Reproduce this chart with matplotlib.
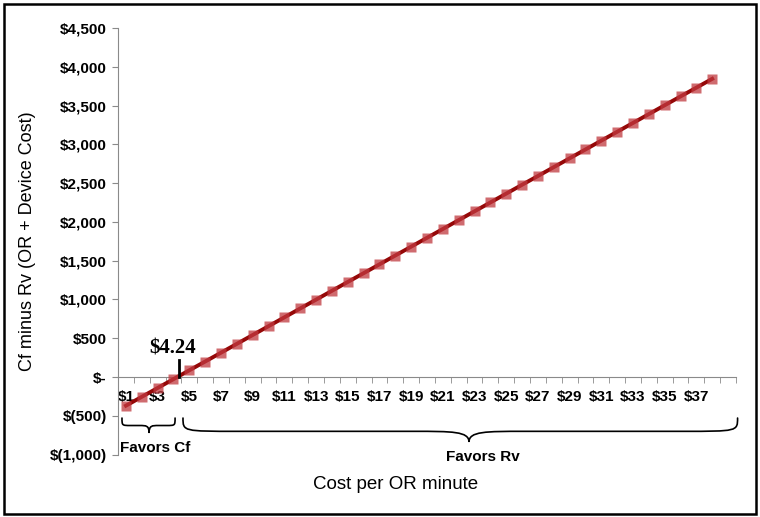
import matplotlib.pyplot as plt
from matplotlib.patches import Rectangle, PathPatch
from matplotlib.path import Path
import numpy as np

plt.rcParams['font.family'] = ['Liberation Sans', 'DejaVu Sans']

# Data: cost per OR minute ($1..$38) vs Cf minus Rv
cost = list(range(1, 39))
diff = [-369, -255, -141, -27, 87, 200, 314, 428, 542, 656,
        770, 884, 998, 1112, 1226, 1339, 1453, 1567, 1681, 1795,
        1909, 2023, 2137, 2251, 2365, 2479, 2592, 2706, 2820, 2934,
        3048, 3162, 3276, 3390, 3504, 3618, 3731, 3845]
yticks = [-1000, -500, 0, 500, 1000, 1500, 2000, 2500, 3000, 3500, 4000, 4500]
ytick_labels = ['$(1,000)', '$(500)', '$-', '$500', '$1,000', '$1,500', '$2,000',
                '$2,500', '$3,000', '$3,500', '$4,000', '$4,500']
breakeven = 4.24

fig = plt.figure(figsize=(7.6, 5.17), dpi=100)
ax = fig.add_axes([0.1553, 0.1207, 0.8131, 0.8251])

# frame round the whole figure
fig.patches.append(Rectangle((0.005, 0.006), 0.99, 0.987, transform=fig.transFigure,
                             fill=False, edgecolor='black', linewidth=1.8))

ax.plot(cost, diff, color='#950808', linewidth=2.8, zorder=3)
ax.plot(cost, diff, linestyle='none', marker='s', markersize=7,
        markerfacecolor='#c0393f', markeredgecolor='none', alpha=0.75, zorder=4)

ax.set_xlim(0.5, 39.5)
ax.set_ylim(-1000, 4500)

# axes styling (Excel look)
for s in ['top', 'right']:
    ax.spines[s].set_visible(False)
ax.spines['left'].set_color('#8a8a8a')
ax.spines['bottom'].set_color('#8a8a8a')
ax.spines['bottom'].set_position(('data', 0))

ax.set_yticks(yticks)
ax.set_yticklabels(ytick_labels, fontsize=11, fontweight='bold')
ax.tick_params(axis='y', length=4, color='#8a8a8a', pad=4)

ax.set_xticks(cost[::2])
ax.set_xticklabels(['$%d' % c for c in cost[::2]], fontsize=11, fontweight='bold')
ax.set_xticks(np.arange(0.5, 40, 1), minor=True)
ax.tick_params(axis='x', which='major', length=0, pad=9)
ax.tick_params(axis='x', which='minor', length=4, color='#8a8a8a', direction='out')

ax.set_ylabel('Cf minus Rv (OR + Device Cost)', fontsize=13, labelpad=10)
fig.text(0.52, 0.062, 'Cost per OR minute', fontsize=13.5, ha='center', va='center')

# break-even marker
ax.plot([breakeven + 0.1, breakeven + 0.1], [0, 220], color='black', linewidth=2, zorder=5)
ax.text(breakeven - 0.3, 235, '$%.2f' % breakeven, fontsize=15, fontweight='bold',
        family='Liberation Serif', ha='center', va='bottom')


def brace(x0, x1, xm, ytop, ymid, ytip, r_end, r_tip):
    # curly brace opening upward, built from cubic curves
    verts = [(x0, ytop), (x0, ymid), (x0, ymid), (x0 + r_end, ymid),
             (xm - r_tip, ymid),
             (xm - r_tip * 0.3, ymid), (xm, ymid), (xm, ytip),
             (xm, ymid), (xm + r_tip * 0.3, ymid), (xm + r_tip, ymid),
             (x1 - r_end, ymid),
             (x1, ymid), (x1, ymid), (x1, ytop)]
    codes = [Path.MOVETO, Path.CURVE4, Path.CURVE4, Path.CURVE4,
             Path.LINETO,
             Path.CURVE4, Path.CURVE4, Path.CURVE4,
             Path.CURVE4, Path.CURVE4, Path.CURVE4,
             Path.LINETO,
             Path.CURVE4, Path.CURVE4, Path.CURVE4]
    ax.add_patch(PathPatch(Path(verts, codes), fill=False, edgecolor='black',
                           linewidth=1.2, clip_on=False, capstyle='round'))


brace(0.75, 4.1, 2.46, -529, -625, -722, 0.55, 0.6)
brace(4.6, 39.6, 22.65, -529, -700, -838, 3.5, 3.5)

ax.text(0.63, -915, 'Favors Cf', fontsize=11, fontweight='bold', ha='left', va='center')
ax.text(23.5, -1031, 'Favors Rv', fontsize=11, fontweight='bold', ha='center', va='center')

fig.savefig('out.png', dpi=100)
